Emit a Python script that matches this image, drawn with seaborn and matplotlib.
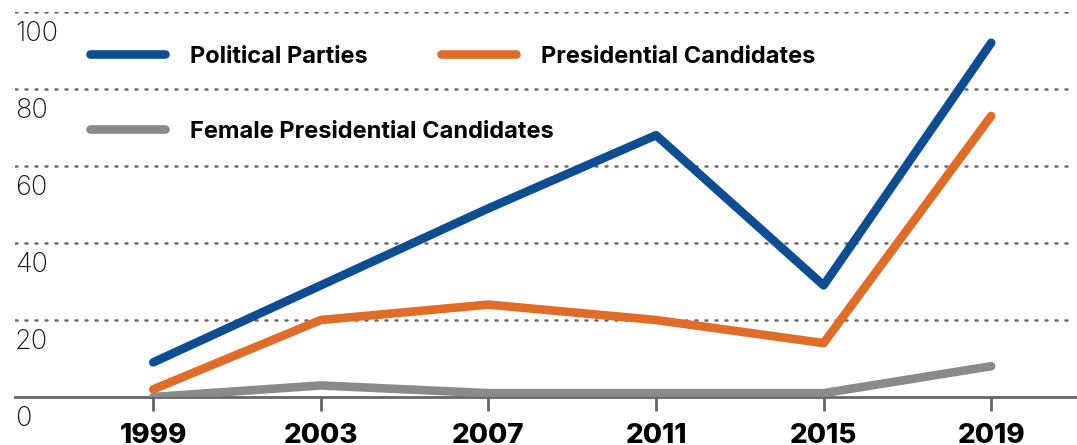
import matplotlib
matplotlib.use("Agg")
import matplotlib.pyplot as plt
from matplotlib.lines import Line2D
import matplotlib.transforms as mtransforms
import seaborn as sns
import pandas as pd

# ---- data -------------------------------------------------------------
years = [1999, 2003, 2007, 2011, 2015, 2019]
political_parties = [9, 29, 49, 68, 29, 92]
presidential_candidates = [2, 20, 24, 20, 14, 73]
female_candidates = [0, 3, 1, 1, 1, 8]

series_names = ["Political Parties", "Presidential Candidates",
                "Female Presidential Candidates"]
series_colors = ["#0e4d92", "#e06c28", "#8a8a8a"]
y_ticks = [0, 20, 40, 60, 80, 100]

df = pd.DataFrame({
    "year": years * 3,
    "value": political_parties + presidential_candidates + female_candidates,
    "series": [series_names[0]] * 6 + [series_names[1]] * 6 + [series_names[2]] * 6,
})

# ---- figure -----------------------------------------------------------
sns.set_theme(style="white")
plt.rcParams["font.family"] = ["Inter", "DejaVu Sans"]

W, H = 1077, 445
fig = plt.figure(figsize=(W / 100, H / 100), dpi=100)
fig.patch.set_facecolor("white")

# axes box in pixel terms: x 15..1075, y(0)=397, y(100)=12
ax = fig.add_axes([15 / W, (H - 397) / H, (1075 - 15) / W, (397 - 12) / H])
ax.set_facecolor("none")

sns.lineplot(data=df, x="year", y="value", hue="series",
             hue_order=series_names, palette=series_colors,
             linewidth=6.2, legend=False, ax=ax, zorder=3)
for ln in ax.get_lines():
    ln.set_solid_capstyle("round")
    ln.set_solid_joinstyle("round")

ax.set_xlim(1995.7, 2021.0)
ax.set_ylim(0, 100)

# dotted gridlines
for v in y_ticks[1:]:
    ax.axhline(v, color="#6a6a6a", linestyle=(0, (0.8, 3.2)), linewidth=1.8,
               dash_capstyle="round", zorder=1)

for s in ["top", "right", "left"]:
    ax.spines[s].set_visible(False)
ax.spines["bottom"].set_color("#666666")
ax.spines["bottom"].set_linewidth(2)
ax.spines["bottom"].set_zorder(2)

ax.set_xticks(years)
ax.set_xticklabels([str(y) for y in years], fontsize=20, fontweight="heavy",
                   color="black")
ax.tick_params(axis="x", direction="out", length=10, width=2,
               color="#666666", pad=9, bottom=True)
ax.set_yticks([])
ax.set_xlabel("")
ax.set_ylabel("")

# y-axis labels sit just under their gridline at the left edge
offset = mtransforms.ScaledTranslation(0, -9 / 100, fig.dpi_scale_trans)
for v in y_ticks:
    ax.text(0, v, str(v), transform=ax.get_yaxis_transform() + offset,
            ha="left", va="top", fontsize=19.5, fontweight="light",
            color="#111111")

# ---- legend -----------------------------------------------------------
legend_rows = [
    (series_names[0], series_colors[0], 90, 165, 190, 57),
    (series_names[1], series_colors[1], 441, 516, 541, 57),
    (series_names[2], series_colors[2], 90, 165, 190, 132),
]
for label, color, x0, x1, tx, y in legend_rows:
    fig.add_artist(Line2D([x0 / W, x1 / W], [(H - y + 3) / H, (H - y + 3) / H],
                          transform=fig.transFigure, color=color,
                          linewidth=6.2, solid_capstyle="round"))
    fig.text(tx / W, (H - y) / H, label, ha="left", va="center",
             fontsize=17, fontweight="bold", color="black")

fig.savefig("out.png", dpi=100, facecolor="white")
